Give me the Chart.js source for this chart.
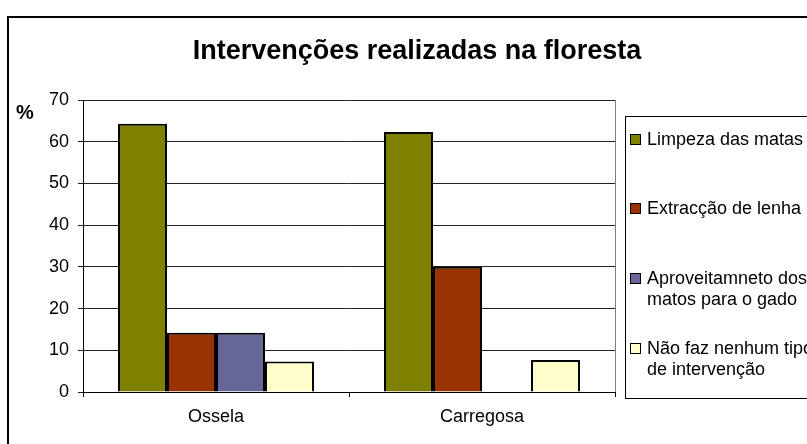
<!DOCTYPE html>
<html>
<head>
<meta charset="utf-8">
<script src="https://cdn.jsdelivr.net/npm/chart.js@4.4.0/dist/chart.umd.min.js"></script>
<style>
html,body{margin:0;padding:0;background:#fff;}
#wrap{width:807px;height:444px;position:relative;}
</style>
</head>
<body>
<div id="wrap"><canvas id="c" width="807" height="444"></canvas></div>
<script>
const categories = ["Ossela", "Carregosa"];
const limpeza = [64.3, 62.3];
const extraccao = [14.2, 30.0];
const aproveitamento = [14.2, 0];
const naoFaz = [7.3, 7.7];
const seriesLabels = [
  ["Limpeza das matas"],
  ["Extracção de lenha"],
  ["Aproveitamneto dos", "matos para o gado"],
  ["Não faz nenhum tipo", "de intervenção"]
];
const yTicks = [0, 10, 20, 30, 40, 50, 60, 70];
const titleText = "Intervenções realizadas na floresta";
const yUnit = "%";

const colors = ["#808000", "#993300", "#666699", "#FFFFCC"];
const FONT = "Arial, 'Liberation Sans', sans-serif";

const decor = {
  id: "decor",
  beforeDraw(chart) {
    const ctx = chart.ctx;
    ctx.save();
    ctx.fillStyle = "#fff";
    ctx.fillRect(0, 0, chart.width, chart.height);
    ctx.restore();
  },
  afterDraw(chart) {
    const ctx = chart.ctx;
    const ca = chart.chartArea;
    ctx.save();
    // outer border
    ctx.strokeStyle = "#000";
    ctx.lineWidth = 2;
    ctx.strokeRect(8, 17, 900, 900);
    // plot right border
    ctx.strokeStyle = "#808080";
    ctx.lineWidth = 1;
    ctx.beginPath();
    ctx.moveTo(ca.right + 0.5, ca.top);
    ctx.lineTo(ca.right + 0.5, ca.bottom);
    ctx.stroke();
    // title
    ctx.fillStyle = "#000";
    ctx.font = "bold 27px " + FONT;
    ctx.textAlign = "center";
    ctx.textBaseline = "middle";
    ctx.fillText(titleText, 417, 52);
    // unit
    ctx.font = "bold 20px " + FONT;
    ctx.textAlign = "left";
    ctx.fillText(yUnit, 16, 113);
    // legend
    ctx.strokeStyle = "#000";
    ctx.lineWidth = 1;
    ctx.strokeRect(625.5, 116.5, 300, 282);
    const rowY = [140, 209, 279, 349];
    ctx.font = "18px " + FONT;
    ctx.textBaseline = "middle";
    chart.data.datasets.forEach((ds, i) => {
      const y = rowY[i];
      ctx.fillStyle = ds.backgroundColor;
      ctx.fillRect(631, y - 5, 9, 9);
      ctx.strokeStyle = "#000";
      ctx.strokeRect(630.5, y - 5.5, 10, 10);
      ctx.fillStyle = "#000";
      ds.legendLines.forEach((ln, k) => {
        ctx.fillText(ln, 647, y + k * 21);
      });
    });
    ctx.restore();
  }
};

const datasets = [limpeza, extraccao, aproveitamento, naoFaz].map((d, i) => ({
  label: seriesLabels[i].join(" "),
  legendLines: seriesLabels[i],
  data: d,
  backgroundColor: colors[i],
  borderColor: "#000",
  borderWidth: 2,
  categoryPercentage: 0.737,
  barPercentage: 1.0
}));

new Chart(document.getElementById("c"), {
  type: "bar",
  data: { labels: categories, datasets },
  options: {
    responsive: false,
    animation: false,
    devicePixelRatio: 1,
    layout: { padding: { top: 100, right: 192, left: 0, bottom: 0 } },
    plugins: {
      legend: { display: false },
      title: { display: false },
      tooltip: { enabled: false }
    },
    scales: {
      x: {
        afterFit(s) { s.height = 52; },
        grid: { display: true, offset: true, drawOnChartArea: false, tickLength: 5, color: "#000" },
        border: { display: true, color: "#000", width: 1 },
        ticks: { color: "#000", font: { family: FONT, size: 18 }, padding: 9 }
      },
      y: {
        min: 0, max: 70,
        afterFit(s) { s.width = 83; },
        afterBuildTicks(s) { s.ticks = yTicks.map(v => ({ value: v })); },
        grid: { color: "#222", lineWidth: 1, tickLength: 5 },
        border: { display: true, color: "#000", width: 1 },
        ticks: { color: "#000", font: { family: FONT, size: 18 }, padding: 9 }
      }
    }
  },
  plugins: [decor]
});
</script>
</body>
</html>
